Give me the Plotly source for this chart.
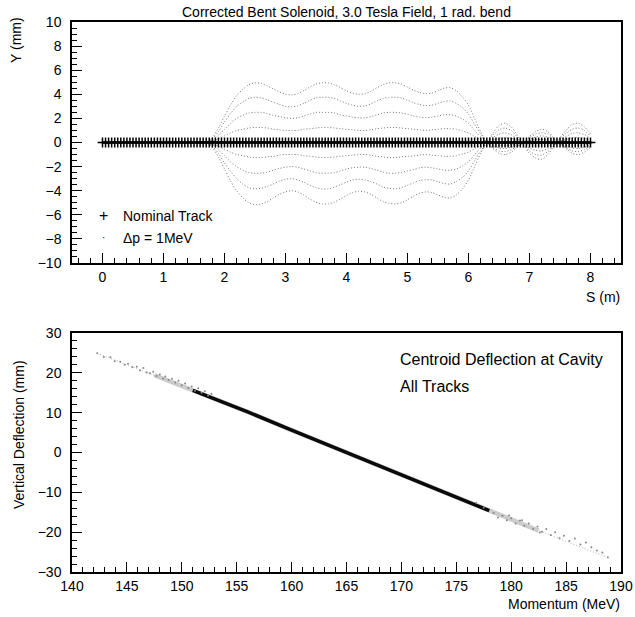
import plotly.graph_objects as go

W, H = 635, 617

# ---------------- Top panel data ----------------
nominal_s = [round(0.05 * i, 2) for i in range(161)]
nominal_y = [0.0] * len(nominal_s)

curve_s = [0.0, 1.0, 1.6,
           1.7, 1.8, 1.9, 2.0, 2.1, 2.2, 2.3, 2.4, 2.5, 2.6,
           2.7, 2.8, 2.9, 3.0, 3.1, 3.2, 3.3, 3.4, 3.5, 3.6,
           3.7, 3.8, 3.9, 4.0, 4.1, 4.2, 4.3, 4.4, 4.5, 4.6,
           4.7, 4.8, 4.9, 5.0, 5.1, 5.2, 5.3, 5.4, 5.5, 5.6,
           5.7, 5.8, 5.9, 6.0, 6.1, 6.2, 6.3, 6.4, 6.5, 6.6,
           6.7, 6.8, 6.9, 7.0, 7.1, 7.2, 7.3, 7.4, 7.5, 7.6,
           7.7, 7.8, 7.9, 8.0]

u4 = [0, 0, 0,
      0.0, 0.4, 1.2, 2.2, 3.1, 3.9, 4.4, 4.8, 4.95, 4.9,
      4.7, 4.45, 4.2, 4.0, 3.95, 4.05, 4.3, 4.6, 4.85, 4.95,
      4.95, 4.8, 4.55, 4.3, 4.1, 4.0, 4.05, 4.25, 4.55, 4.8,
      4.95, 4.95, 4.85, 4.6, 4.35, 4.15, 4.05, 4.1, 4.3, 4.5,
      4.55, 4.3, 3.8, 3.1, 2.0, 0.9, 0.1, 0.8, 1.4, 1.6,
      1.3, 0.6, -0.2, -0.9, -1.3, -1.4, -1.0, -0.3, 0.4, 1.0,
      1.5, 1.6, 1.3, 0.7]
u3 = [0, 0, 0,
      0.0, 0.3, 0.9, 1.7, 2.4, 3.0, 3.35, 3.65, 3.75, 3.7,
      3.55, 3.35, 3.15, 3.0, 2.95, 3.05, 3.25, 3.5, 3.7, 3.75,
      3.75, 3.65, 3.45, 3.25, 3.1, 3.0, 3.05, 3.2, 3.45, 3.65,
      3.75, 3.75, 3.7, 3.5, 3.3, 3.15, 3.05, 3.1, 3.25, 3.4,
      3.45, 3.25, 2.9, 2.35, 1.5, 0.7, 0.1, 0.6, 1.05, 1.2,
      1.0, 0.45, -0.15, -0.7, -1.0, -1.05, -0.75, -0.25, 0.3, 0.75,
      1.1, 1.2, 1.0, 0.5]
u2 = [0, 0, 0,
      0.0, 0.2, 0.6, 1.1, 1.6, 2.0, 2.25, 2.45, 2.5, 2.5,
      2.4, 2.25, 2.15, 2.05, 2.0, 2.05, 2.2, 2.35, 2.5, 2.5,
      2.5, 2.45, 2.3, 2.2, 2.1, 2.05, 2.05, 2.15, 2.3, 2.45,
      2.5, 2.5, 2.45, 2.35, 2.2, 2.1, 2.05, 2.1, 2.2, 2.3,
      2.3, 2.2, 1.95, 1.6, 1.0, 0.45, 0.05, 0.4, 0.7, 0.8,
      0.65, 0.3, -0.1, -0.45, -0.65, -0.7, -0.5, -0.15, 0.2, 0.5,
      0.75, 0.8, 0.65, 0.35]
u1 = [0, 0, 0,
      0.0, 0.1, 0.3, 0.55, 0.8, 1.0, 1.1, 1.2, 1.25, 1.25,
      1.2, 1.1, 1.05, 1.0, 1.0, 1.0, 1.1, 1.15, 1.2, 1.25,
      1.25, 1.2, 1.15, 1.1, 1.05, 1.0, 1.0, 1.05, 1.15, 1.2,
      1.25, 1.25, 1.2, 1.15, 1.1, 1.05, 1.0, 1.05, 1.1, 1.15,
      1.15, 1.1, 0.95, 0.8, 0.5, 0.25, 0.05, 0.2, 0.35, 0.4,
      0.35, 0.15, -0.05, -0.25, -0.35, -0.35, -0.25, -0.1, 0.1, 0.25,
      0.4, 0.4, 0.35, 0.2]
l1 = [0, 0, 0,
      0.0, -0.1, -0.3, -0.55, -0.8, -1.0, -1.1, -1.2, -1.25, -1.25,
      -1.2, -1.15, -1.05, -1.0, -1.0, -1.0, -1.1, -1.15, -1.2, -1.25,
      -1.25, -1.2, -1.15, -1.1, -1.05, -1.0, -1.0, -1.05, -1.15, -1.2,
      -1.25, -1.25, -1.2, -1.15, -1.1, -1.05, -1.0, -1.05, -1.1, -1.15,
      -1.15, -1.1, -0.95, -0.8, -0.5, -0.25, -0.05, -0.15, -0.25, -0.25,
      -0.2, -0.1, 0.0, 0.15, 0.25, 0.25, 0.2, 0.1, 0.0, -0.1,
      -0.2, -0.25, -0.2, -0.1]
l2 = [0, 0, 0,
      0.0, -0.2, -0.6, -1.1, -1.6, -2.0, -2.3, -2.5, -2.55, -2.55,
      -2.45, -2.3, -2.15, -2.05, -2.0, -2.05, -2.2, -2.35, -2.5, -2.55,
      -2.55, -2.5, -2.35, -2.2, -2.1, -2.05, -2.05, -2.15, -2.3, -2.45,
      -2.55, -2.55, -2.5, -2.35, -2.25, -2.1, -2.05, -2.1, -2.2, -2.3,
      -2.3, -2.2, -1.95, -1.6, -1.0, -0.45, -0.05, -0.25, -0.45, -0.5,
      -0.4, -0.2, 0.0, 0.25, 0.45, 0.55, 0.45, 0.2, -0.05, -0.25,
      -0.45, -0.5, -0.4, -0.2]
l3 = [0, 0, 0,
      0.0, -0.3, -0.9, -1.7, -2.4, -3.0, -3.45, -3.75, -3.85, -3.8,
      -3.65, -3.45, -3.2, -3.05, -3.0, -3.1, -3.3, -3.55, -3.75, -3.85,
      -3.85, -3.7, -3.5, -3.3, -3.1, -3.05, -3.1, -3.25, -3.45, -3.7,
      -3.8, -3.85, -3.75, -3.55, -3.35, -3.15, -3.1, -3.1, -3.25, -3.4,
      -3.45, -3.25, -2.9, -2.35, -1.5, -0.7, -0.1, -0.4, -0.7, -0.75,
      -0.6, -0.3, 0.0, 0.4, 0.7, 0.8, 0.7, 0.3, -0.1, -0.4,
      -0.7, -0.75, -0.6, -0.3]
l4 = [0, 0, 0,
      0.0, -0.4, -1.2, -2.2, -3.2, -4.0, -4.6, -5.0, -5.15, -5.1,
      -4.9, -4.6, -4.3, -4.1, -4.0, -4.1, -4.35, -4.7, -4.95, -5.1,
      -5.1, -4.95, -4.7, -4.4, -4.15, -4.05, -4.1, -4.3, -4.6, -4.9,
      -5.05, -5.1, -5.0, -4.75, -4.45, -4.2, -4.1, -4.15, -4.35, -4.55,
      -4.6, -4.35, -3.85, -3.1, -2.0, -0.9, -0.1, -0.5, -0.9, -1.0,
      -0.8, -0.4, 0.0, 0.5, 0.9, 1.1, 0.9, 0.4, -0.1, -0.5,
      -0.9, -1.0, -0.8, -0.4]
curves = [u4, u3, u2, u1, l1, l2, l3, l4]

# ---------------- Bottom panel data ----------------
core_p = [142.3, 146.0, 150.0, 153.0, 156.0, 160.0, 165.0, 170.0, 175.0, 180.0, 185.0, 189.0]
core_d = [24.9, 21.0, 16.7, 13.5, 10.2, 5.6, 0.0, -5.6, -11.3, -16.9, -22.3, -26.6]

band_p = [151.0, 153.0, 156.0, 160.0, 165.0, 170.0, 175.0, 178.0]
band_d = [15.6, 13.5, 10.2, 5.6, 0.0, -5.6, -11.3, -14.6]

fuzz_p = [147.5, 150.0, 153.0, 156.0, 160.0, 165.0, 170.0, 175.0, 180.0, 182.5]
fuzz_d = [19.4, 16.7, 13.5, 10.2, 5.6, 0.0, -5.6, -11.3, -16.9, -19.6]

dots_p = [142.3, 142.9, 143.5, 143.9, 144.4, 144.8, 145.1, 145.5, 145.9, 146.2,
          146.5, 146.8, 147.1, 147.4, 147.7, 148.0, 148.3, 148.5, 148.8, 149.1,
          149.4, 149.7, 150.0, 150.3, 150.6, 150.9, 151.2, 151.5, 151.8, 152.1,
          152.4, 152.7,
          178.4, 178.8, 179.2, 179.6, 180.0, 180.4, 180.8, 181.2, 181.6, 182.0,
          182.4, 182.8, 183.2, 183.6, 184.0, 184.4, 184.8, 185.3, 185.8, 186.3,
          186.8, 187.3, 187.8, 188.3, 188.8, 181.0, 182.6, 179.8, 177.5, 176.8]
dots_d = [24.9, 24.0, 23.9, 22.9, 22.8, 22.0, 22.3, 21.4, 21.5, 20.6,
          21.2, 20.1, 19.9, 20.3, 19.2, 19.6, 18.6, 19.1, 18.2, 18.5,
          17.6, 18.0, 16.9, 17.3, 16.2, 16.6, 15.5, 16.1, 15.0, 15.4,
          14.3, 14.7,
          -15.2, -16.3, -15.9, -17.0, -16.5, -17.8, -17.1, -18.4, -17.8, -19.2,
          -18.6, -19.9, -19.2, -20.7, -20.0, -21.5, -20.9, -22.2, -21.6, -23.1,
          -22.6, -23.8, -24.6, -25.1, -26.3, -17.0, -20.1, -15.8, -13.9, -12.6]

# ---------------- Figure ----------------
fig = go.Figure()

for c in curves:
    fig.add_trace(go.Scatter(x=curve_s, y=c, mode="lines",
                             line=dict(color="#777777", width=1, dash="1px,2px", shape="spline", smoothing=0.8),
                             hoverinfo="skip", showlegend=False, xaxis="x", yaxis="y"))

fig.add_trace(go.Scatter(x=nominal_s, y=nominal_y, mode="lines+markers",
                         line=dict(color="black", width=2.5),
                         marker=dict(symbol="cross-thin", size=7, line=dict(color="black", width=1.5)),
                         showlegend=False, xaxis="x", yaxis="y"))

fig.add_trace(go.Scatter(x=core_p, y=core_d, mode="lines",
                         line=dict(color="#b0b0b0", width=1, dash="1px,2px"), showlegend=False,
                         xaxis="x2", yaxis="y2"))
fig.add_trace(go.Scatter(x=fuzz_p, y=fuzz_d, mode="lines",
                         line=dict(color="#cccccc", width=4.5), showlegend=False,
                         xaxis="x2", yaxis="y2"))
fig.add_trace(go.Scatter(x=band_p, y=band_d, mode="lines",
                         line=dict(color="#0a0a0a", width=3.5), showlegend=False,
                         xaxis="x2", yaxis="y2"))
fig.add_trace(go.Scatter(x=dots_p, y=dots_d, mode="markers",
                         marker=dict(color="#888888", size=2), showlegend=False,
                         xaxis="x2", yaxis="y2"))

FONT = "Liberation Sans, Arial, sans-serif"

def axis_common():
    return dict(showgrid=False, zeroline=False, showline=True, linecolor="black",
                linewidth=1.5, mirror=True, ticks="inside", ticklen=10, tickwidth=1.2,
                tickcolor="black", automargin=False,
                tickfont=dict(family=FONT, size=14, color="black"))

xa = axis_common(); xa.update(domain=[72/W, 621/W], range=[-0.5, 8.5], tick0=0, dtick=1,
                              anchor="y", minor=dict(ticks="inside", dtick=0.2, ticklen=5, tickcolor="black"))
ya = axis_common(); ya.update(domain=[1-263/H, 1-22/H], range=[-10, 10], tick0=0, dtick=2,
                              anchor="x", ticklabelstandoff=6,
                              minor=dict(ticks="inside", dtick=0.5, ticklen=5, tickcolor="black"))
xa2 = axis_common(); xa2.update(domain=[72/W, 621/W], range=[140, 190], tick0=140, dtick=5,
                                anchor="y2", minor=dict(ticks="inside", dtick=1, ticklen=5, tickcolor="black"))
ya2 = axis_common(); ya2.update(domain=[1-572/H, 1-333/H], range=[-30, 30], tick0=0, dtick=10,
                                anchor="x2", ticklabelstandoff=6,
                                minor=dict(ticks="inside", dtick=2, ticklen=5, tickcolor="black"))

def ann(text, x, y, size=14, xanchor="center", yanchor="middle", angle=0):
    return dict(text=text, x=x/W, y=1-y/H, xref="paper", yref="paper", showarrow=False,
                xanchor=xanchor, yanchor=yanchor, textangle=angle,
                font=dict(family=FONT, size=size, color="black"))

annotations = [
    ann("Corrected Bent Solenoid, 3.0 Tesla Field, 1 rad. bend", 346, 12, size=14),
    ann("Y (mm)", 16, 40, size=14, angle=-90),
    ann("S (m)", 622, 297, size=14, xanchor="right"),
    ann("+", 103, 216, size=16),
    ann("Nominal Track", 121, 216, size=14, xanchor="left"),
    ann("·", 103, 237, size=10),
    ann("Δp = 1MeV", 121, 238, size=14, xanchor="left"),
    ann("Vertical Deflection (mm)", 19, 435, size=14, angle=-90),
    ann("Momentum (MeV)", 622, 604, size=14, xanchor="right"),
    ann("Centroid Deflection at Cavity", 398, 360, size=16, xanchor="left"),
    ann("All Tracks", 398, 386, size=16, xanchor="left"),
]

fig.update_layout(width=W, height=H, margin=dict(l=0, r=0, t=0, b=0, autoexpand=False),
                  paper_bgcolor="white", plot_bgcolor="white",
                  xaxis=xa, yaxis=ya, xaxis2=xa2, yaxis2=ya2,
                  annotations=annotations, showlegend=False)

fig.write_html("out.html")
